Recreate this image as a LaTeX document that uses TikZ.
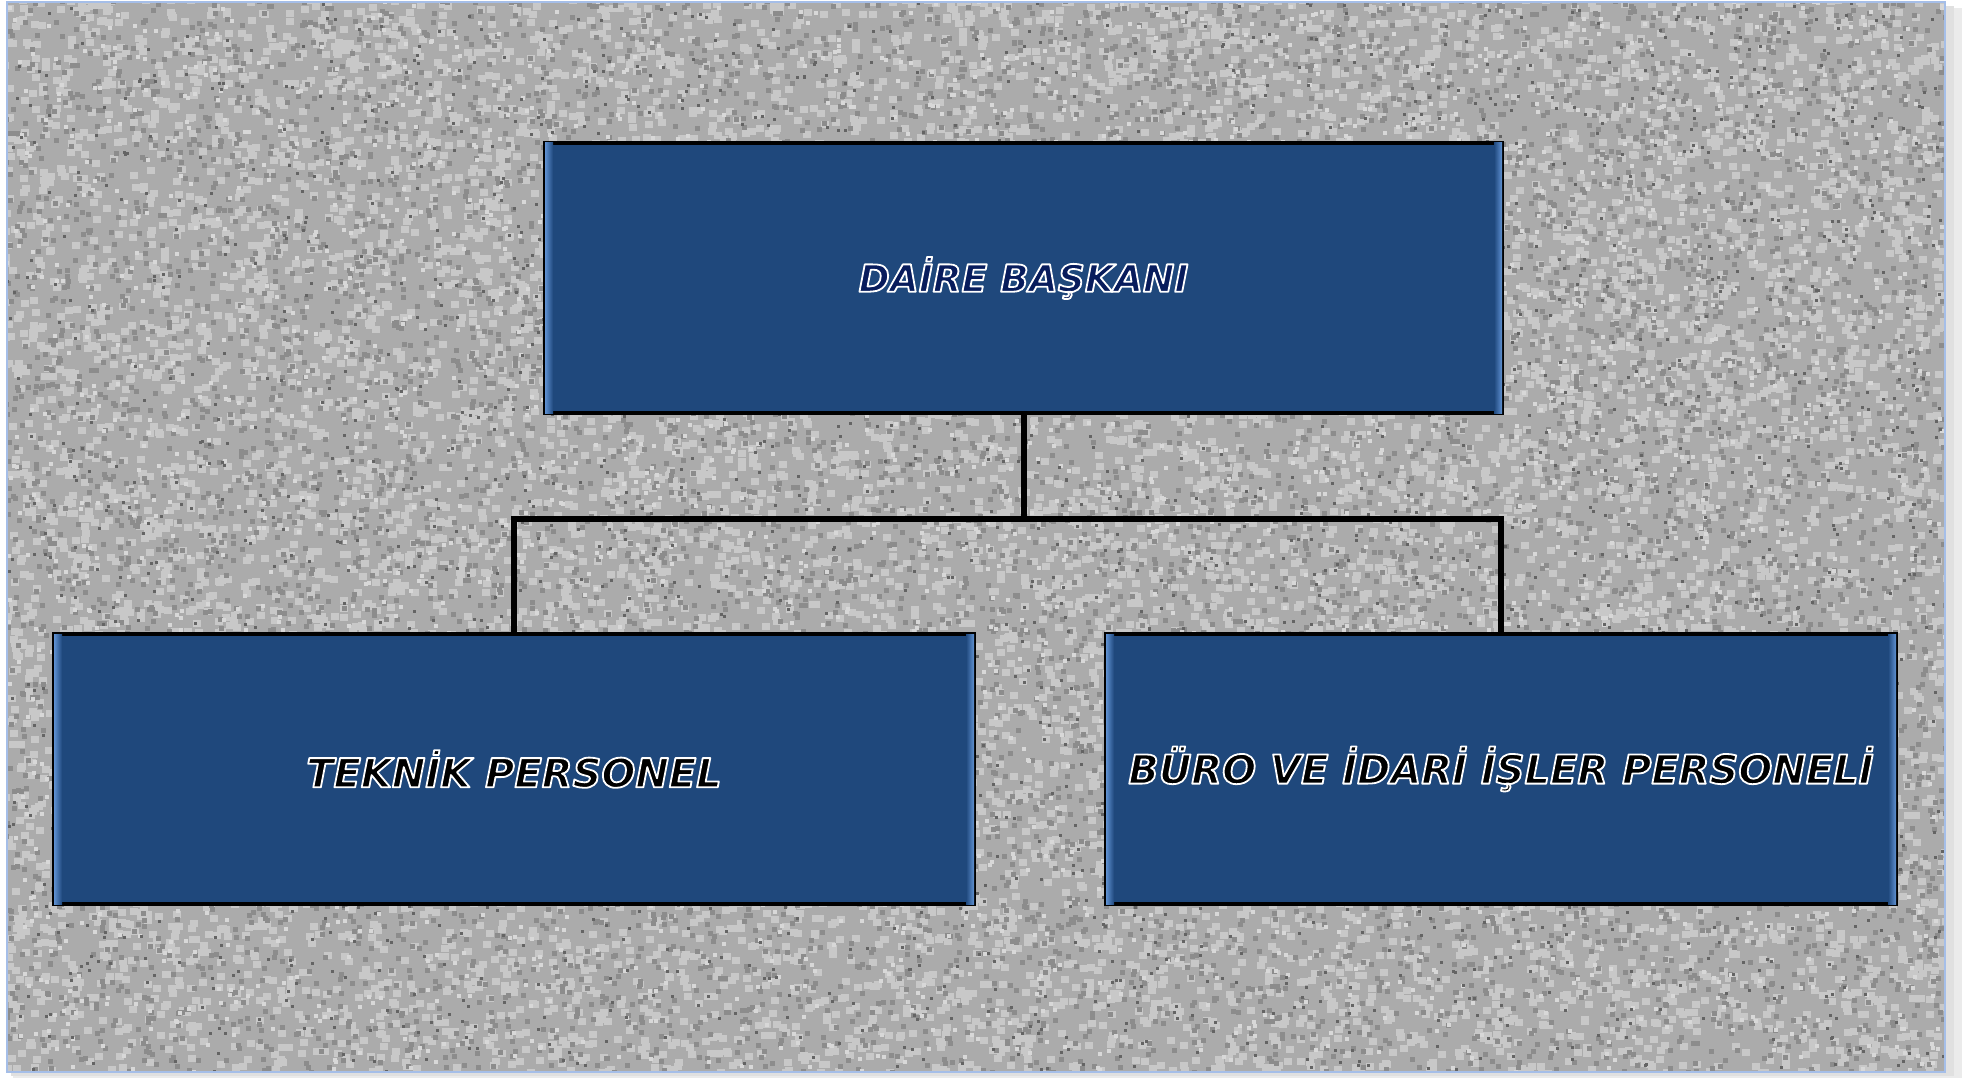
\documentclass[tikz,border=0pt]{standalone}
\usepackage{fontspec}
\setmainfont{DejaVu Sans}
\newfontfamily\boxfont{DejaVu Sans}
\usetikzlibrary{calc}
\definecolor{boxblue}{RGB}{31,72,124}
\definecolor{bevel}{RGB}{95,145,210}
\definecolor{navytext}{RGB}{8,28,92}
\definecolor{framecol}{RGB}{165,190,232}
\definecolor{granite}{RGB}{171,171,171}
\definecolor{gralight}{RGB}{200,200,200}
\definecolor{gralighter}{RGB}{216,216,216}
\definecolor{gradark}{RGB}{140,140,140}
\definecolor{gradarker}{RGB}{100,100,100}

% random specks of granite, one small filled rectangle each (canvas coordinates)
\newcommand\speckle[4]{%
  \pgfsetfillcolor{#1}%
  \foreach \i in {1,...,#2}{%
    \pgfmathsetmacro\px{1+1946*rnd}\pgfmathsetmacro\py{-1077*rnd}%
    \pgfpathrectangle{\pgfqpoint{\px pt}{\py pt}}{\pgfqpoint{#3}{#4}}\pgfusepath{fill}}}

% outlined text: glyphs filled in the given colour, stroked in white
\newcommand\otext[2]{{\color{#1}\special{pdf:literal direct 2 Tr 1.8 w 1 1 1 RG 1 j}#2\special{pdf:literal direct 0 Tr}}}

\begin{document}
\begin{tikzpicture}[x=1pt,y=-1pt,
  box/.style={draw=black, line width=4pt, fill=boxblue, inner sep=0pt,
    minimum height=270pt, font=\boxfont\bfseries\itshape\fontsize{40}{42}\selectfont},
  conn/.style={draw=black, line width=6pt, line cap=rect}]
\useasboundingbox (0,0) rectangle (1979,1078);
% frame shadow
\fill[black!8] (13,8) rectangle (1962,1078);
\fill[black!12] (11,6) rectangle (1954,1076);
% granite background
\fill[granite] (7,2) rectangle (1945,1072);
\begin{scope}
\clip (7,2) rectangle (1945,1072);
\pgfmathsetseed{11}
\speckle{gralight}{12000}{8pt}{7pt}
\speckle{gradark}{8500}{5pt}{5pt}
\speckle{gralighter}{3000}{4pt}{4pt}
\speckle{gradarker}{2500}{3pt}{3pt}
\end{scope}
\draw[framecol, line width=2pt] (7,2) rectangle (1945,1072);

% nodes
\node[box, minimum width=957pt, font=\boxfont\bfseries\itshape\fontsize{37.5}{40}\selectfont] (top) at (1023.5,278) {\otext{navytext}{DAİRE BAŞKANI}};
\node[box, minimum width=920pt] (left) at (514,769) {\otext{black}{TEKNİK PERSONEL}};
\node[box, minimum width=790pt] (right) at (1501,769) {\otext{black}{BÜRO VE İDARİ İŞLER PERSONELİ}};

% bevels
\foreach \n in {top,left,right}{
  \shade[left color=bevel, right color=boxblue] ($(\n.north west)+(2,2)$) rectangle ($(\n.south west)+(10,-2)$);
  \shade[left color=boxblue, right color=bevel] ($(\n.north east)+(-10,2)$) rectangle ($(\n.south east)+(-2,-2)$);
}

% connectors
\draw[conn] (top.south) -- ++(0,104) coordinate (bus);
\draw[conn] (left.north) |- (bus) -| (right.north);
\end{tikzpicture}
\end{document}
